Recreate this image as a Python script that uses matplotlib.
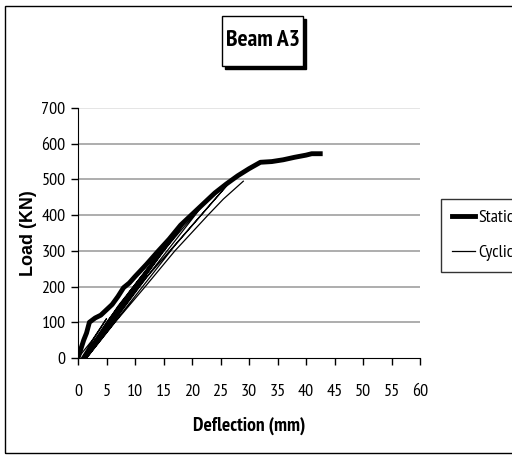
import matplotlib
matplotlib.use("Agg")
import matplotlib.pyplot as plt
from matplotlib.patches import Rectangle

plt.rcParams['font.family'] = ['PT Sans Narrow', 'Roboto Condensed', 'DejaVu Sans']

title = "Beam A3"
x_label = "Deflection (mm)"
y_label = "Load (KN)"
x_ticks = list(range(0, 61, 5))
y_ticks = list(range(0, 701, 100))

static_x = [0, 0.5, 1, 1.5, 2, 3, 4, 5, 6, 7, 8, 9, 10, 12, 14, 16, 18, 20, 22, 24,
            26, 28, 30, 32, 34, 36, 38, 40, 41, 42.5]
static_y = [0, 25, 50, 70, 100, 112, 120, 135, 150, 172, 197, 210, 228, 262, 298, 333,
            372, 402, 432, 462, 487, 510, 530, 548, 550, 555, 562, 568, 572, 572]

cyclic_x = [0, 2.5, 5, 3, 0.6,
            4, 8.3, 5, 0.8,
            5.5, 11.2, 7, 1.0,
            7, 14, 9, 1.2,
            8, 17, 11, 1.3,
            9, 20, 13, 1.4,
            10, 23, 15, 1.5,
            12, 26.5, 17, 1.5,
            6.5, 11.8, 17, 22.8, 25.5, 29]
cyclic_y = [0, 50, 110, 60, 0,
            70, 170, 100, 0,
            95, 230, 145, 0,
            130, 290, 185, 0,
            150, 350, 225, 0,
            170, 405, 265, 0,
            185, 450, 300, 0,
            225, 490, 315, 0,
            100, 200, 300, 400, 445, 495]

fig = plt.figure(figsize=(5.12, 4.55), dpi=100)
fig.patches.append(Rectangle((5/512, 1 - 453/455), 2.0, 447/455, transform=fig.transFigure,
                             fill=False, edgecolor='black', linewidth=1.0))

ax = fig.add_axes([78/512, 1 - 358/455, 342/512, 250/455])
for yv in y_ticks[1:]:
    ax.axhline(yv, color='#a0a0a0' if yv < 700 else '#e0e0e0', linewidth=1.2, zorder=0)

ax.plot(static_x, static_y, color='black', linewidth=3.5, label='Static', zorder=3)
ax.plot(cyclic_x, cyclic_y, color='black', linewidth=0.9, label='Cyclic', zorder=4)

ax.set_xlim(0, 60)
ax.set_ylim(0, 700)
ax.set_xticks(x_ticks)
ax.set_yticks(y_ticks)
ax.spines['top'].set_visible(False)
ax.spines['right'].set_visible(False)
ax.tick_params(axis='both', direction='out', length=5, width=1, labelsize=13)
ax.tick_params(axis='x', pad=14)
ax.tick_params(axis='y', pad=4)
ax.set_xlabel(x_label, fontsize=14, fontweight='bold', labelpad=12)
ax.set_ylabel(y_label, fontsize=13, fontweight='bold', labelpad=3,
              family=['Liberation Sans', 'DejaVu Sans'])

leg = ax.legend(loc='upper left', bbox_to_anchor=(441/342 - 78/342, 1 - (199-108)/250),
                frameon=True, fancybox=False, fontsize=13, handlelength=1.3,
                handletextpad=0.15, borderpad=0.6, labelspacing=1.0, borderaxespad=0)
leg.get_frame().set_edgecolor('black')
leg.get_frame().set_linewidth(1.0)

# title box with shadow
fig.patches.append(Rectangle((225/512, 1 - 69/455), 81/512, 50/455, transform=fig.transFigure,
                             facecolor='black', edgecolor='black'))
fig.patches.append(Rectangle((222/512, 1 - 66/455), 81/512, 50/455, transform=fig.transFigure,
                             facecolor='white', edgecolor='black', linewidth=1.0))
fig.text(262.5/512, 1 - 41/455, title, ha='center', va='center', fontsize=17, fontweight='bold')

fig.savefig("out.png", dpi=100)
